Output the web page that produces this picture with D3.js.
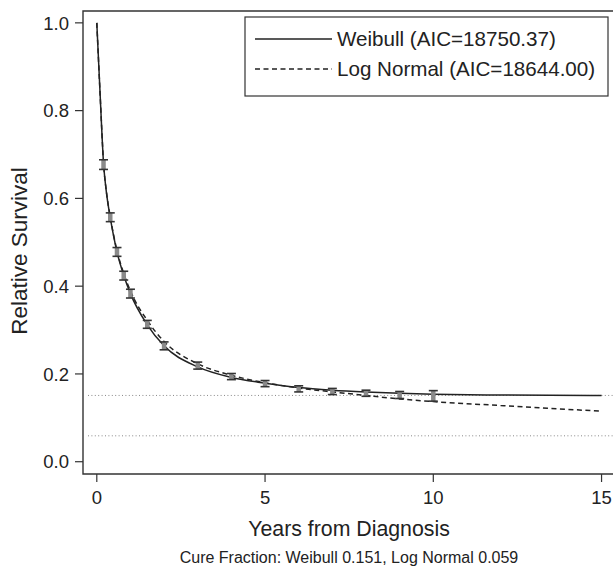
<!DOCTYPE html>
<html>
<head>
<meta charset="utf-8">
<script src="https://cdn.jsdelivr.net/npm/d3@7"></script>
<style>
  body { margin: 0; background: #fff; }
  text { font-family: "Liberation Sans", Arial, sans-serif; fill: #222; }
</style>
</head>
<body>
<svg id="chart" width="613" height="566"></svg>
<script>
let obsTime = [0.2, 0.4, 0.6, 0.8, 1, 1.5, 2, 3, 4, 5, 6, 7, 8, 9, 10];
let obsSurv = [0.677, 0.557, 0.478, 0.424, 0.383, 0.313, 0.264, 0.219, 0.194, 0.178, 0.166, 0.160, 0.156, 0.152, 0.150];
let obsLow  = [0.666, 0.547, 0.468, 0.414, 0.373, 0.304, 0.255, 0.211, 0.187, 0.171, 0.159, 0.153, 0.149, 0.144, 0.138];
let obsHigh = [0.688, 0.567, 0.488, 0.434, 0.393, 0.322, 0.273, 0.227, 0.201, 0.185, 0.173, 0.167, 0.163, 0.160, 0.162];

// fitted curves
let fitTime     = [0, 0.1, 0.2, 0.3, 0.4, 0.6, 0.8, 1, 1.5, 2, 3, 4, 5, 6, 7, 8, 9, 10, 12, 15];
let weibullFit  = [1.0, 0.835, 0.68, 0.605, 0.556, 0.478, 0.425, 0.383, 0.312, 0.264, 0.216, 0.192, 0.179, 0.169, 0.163, 0.159, 0.156, 0.154, 0.152, 0.151];
let lognormFit  = [1.0, 0.835, 0.682, 0.607, 0.558, 0.481, 0.429, 0.389, 0.322, 0.274, 0.223, 0.197, 0.180, 0.168, 0.159, 0.151, 0.143, 0.137, 0.128, 0.115];

let cureFractions = [0.151, 0.059];
let legendLabels = ["Weibull (AIC=18750.37)", "Log Normal (AIC=18644.00)"];
let xTicks = [0, 5, 10, 15];
let yTicks = [0, 0.2, 0.4, 0.6, 0.8, 1.0];

let svg = d3.select("#chart");

let xScale = d3.scaleLinear().domain([-0.41, 15.37]).range([83, 614]);
let yScale = d3.scaleLinear().domain([-0.028, 1.027]).range([474, 11]);

let frameColor = "#333";

// cure fraction reference lines
svg.selectAll(".cure")
  .data(cureFractions)
  .enter().append("line")
  .attr("class", "cure")
  .attr("x1", 88).attr("x2", 613)
  .attr("y1", d => yScale(d)).attr("y2", d => yScale(d))
  .attr("stroke", "#888")
  .attr("stroke-width", 1)
  .attr("stroke-dasharray", "1,2.4");

// plot frame (right edge falls just outside the picture)
svg.append("path")
  .attr("d", `M614,${yScale(1.027)}H83V${yScale(-0.028)}H614`)
  .attr("fill", "none")
  .attr("stroke", frameColor)
  .attr("stroke-width", 1.4);

// y axis
let yAxis = svg.append("g");
yAxis.selectAll("line")
  .data(yTicks).enter().append("line")
  .attr("x1", 75).attr("x2", 83)
  .attr("y1", d => yScale(d)).attr("y2", d => yScale(d))
  .attr("stroke", frameColor).attr("stroke-width", 1.2);
yAxis.selectAll("text")
  .data(yTicks).enter().append("text")
  .attr("x", 69)
  .attr("y", d => yScale(d))
  .attr("dy", "0.36em")
  .attr("text-anchor", "end")
  .style("font-size", "18.5px")
  .text(d3.format(".1f"));

// x axis
let xAxis = svg.append("g");
xAxis.selectAll("line")
  .data(xTicks).enter().append("line")
  .attr("x1", d => xScale(d)).attr("x2", d => xScale(d))
  .attr("y1", 474).attr("y2", 482)
  .attr("stroke", frameColor).attr("stroke-width", 1.2);
xAxis.selectAll("text")
  .data(xTicks).enter().append("text")
  .attr("x", d => xScale(d))
  .attr("y", 504)
  .attr("text-anchor", "middle")
  .style("font-size", "18.5px")
  .text(d => d);

// axis titles
svg.append("text")
  .attr("transform", "translate(27,251) rotate(-90)")
  .attr("text-anchor", "middle")
  .style("font-size", "22.5px")
  .text("Relative Survival");

svg.append("text")
  .attr("x", 349).attr("y", 536)
  .attr("text-anchor", "middle")
  .style("font-size", "21.3px")
  .text("Years from Diagnosis");

svg.append("text")
  .attr("x", 349).attr("y", 563)
  .attr("text-anchor", "middle")
  .style("font-size", "16px")
  .text("Cure Fraction: Weibull 0.151, Log Normal 0.059");

// fitted curves
let line = d3.line()
  .x(d => xScale(d[0]))
  .y(d => yScale(d[1]))
  .curve(d3.curveMonotoneX);

svg.append("path")
  .datum(d3.zip(fitTime, weibullFit))
  .attr("d", line)
  .attr("fill", "none")
  .attr("stroke", "#222")
  .attr("stroke-width", 1.5);

svg.append("path")
  .datum(d3.zip(fitTime, lognormFit))
  .attr("d", line)
  .attr("fill", "none")
  .attr("stroke", "#222")
  .attr("stroke-width", 1.5)
  .attr("stroke-dasharray", "5,3.5");

// error bars
let bars = svg.append("g")
  .selectAll("g")
  .data(obsTime.map((t, i) => ({t: t, est: obsSurv[i], lo: obsLow[i], hi: obsHigh[i]})))
  .enter().append("g");

bars.append("line")
  .attr("x1", d => xScale(d.t)).attr("x2", d => xScale(d.t))
  .attr("y1", d => yScale(d.lo)).attr("y2", d => yScale(d.hi))
  .attr("stroke", "#8a8a8a")
  .attr("stroke-width", 4.5);

bars.selectAll(".cap")
  .data(d => [[d.t, d.lo], [d.t, d.hi]])
  .enter().append("line")
  .attr("class", "cap")
  .attr("x1", d => xScale(d[0]) - 4.5).attr("x2", d => xScale(d[0]) + 4.5)
  .attr("y1", d => yScale(d[1])).attr("y2", d => yScale(d[1]))
  .attr("stroke", "#333")
  .attr("stroke-width", 1.6);

// legend
let legend = svg.append("g");
legend.append("rect")
  .attr("x", 245).attr("y", 17)
  .attr("width", 363).attr("height", 79)
  .attr("fill", "#fff")
  .attr("stroke", frameColor)
  .attr("stroke-width", 1.2);

let dashes = [null, "5,3.5"];
legendLabels.forEach((label, i) => {
  let yy = 39 + i * 30;
  legend.append("line")
    .attr("x1", 255).attr("x2", 332)
    .attr("y1", yy).attr("y2", yy)
    .attr("stroke", "#222")
    .attr("stroke-width", 1.5)
    .attr("stroke-dasharray", dashes[i]);
  legend.append("text")
    .attr("x", 337).attr("y", yy)
    .attr("dy", "0.36em")
    .style("font-size", "20.6px")
    .text(label);
});
</script>
</body>
</html>
